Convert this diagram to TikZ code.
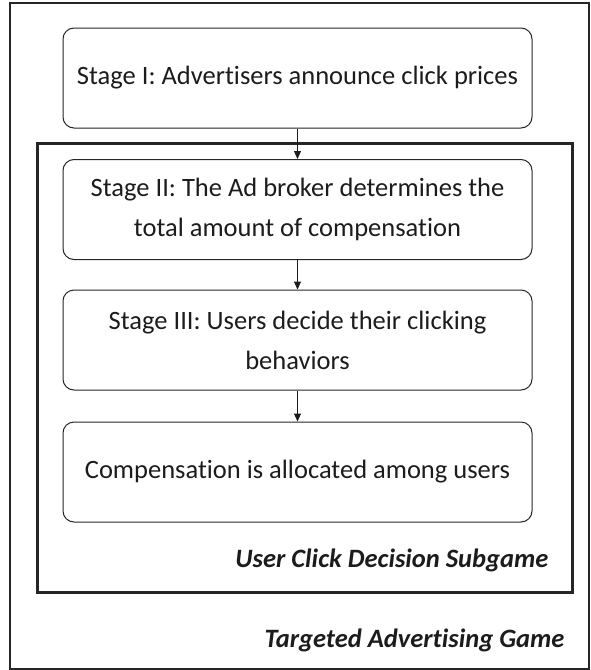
\documentclass[tikz,border=0pt]{standalone}
\usepackage{fontspec}
\setmainfont{Carlito}[Ligatures=NoCommon]
\usetikzlibrary{arrows.meta,positioning}
\definecolor{Ink}{HTML}{1C1C1C}
\definecolor{Frame}{HTML}{262626}

\begin{document}
\begin{tikzpicture}[x=1pt,y=-1pt,
    stagebox/.style={draw=Frame,line width=1pt,rounded corners=11pt,
      minimum width=469pt,minimum height=100pt,align=center,
      text=Ink,font=\fontsize{26.5}{40}\selectfont},
    gamelabel/.style={anchor=east,text=Ink,font=\fontsize{26.5}{32}\selectfont\bfseries\itshape},
    flow/.style={draw=Ink,line width=1pt,-{Triangle[length=8pt,width=7pt]}}]
    \useasboundingbox (0,0) rectangle (590,670);
    % game frames
    \draw[Frame,line width=2pt] (10,3) rectangle (589,669);
    \draw[Frame,line width=3pt] (37,143) rectangle (572,592);
    % stages
    \node[stagebox] (stageone) at (297.5,78) {Stage I: Advertisers announce click prices};
    \node[stagebox] (stagetwo) at (297.5,209.5) {Stage II: The Ad broker determines the\\total amount of compensation};
    \node[stagebox] (stagethree) at (297.5,340) {Stage III: Users decide their clicking\\behaviors};
    \node[stagebox] (alloc) at (297.5,472) {Compensation is allocated among users};
    \draw[flow] (stageone) -- (stagetwo);
    \draw[flow] (stagetwo) -- (stagethree);
    \draw[flow] (stagethree) -- (alloc);
    \node[gamelabel] (subgame) at (552,560) {User Click Decision Subgame};
    \node[gamelabel] (game) at (568,640) {Targeted Advertising Game};
  \end{tikzpicture}
\end{document}
